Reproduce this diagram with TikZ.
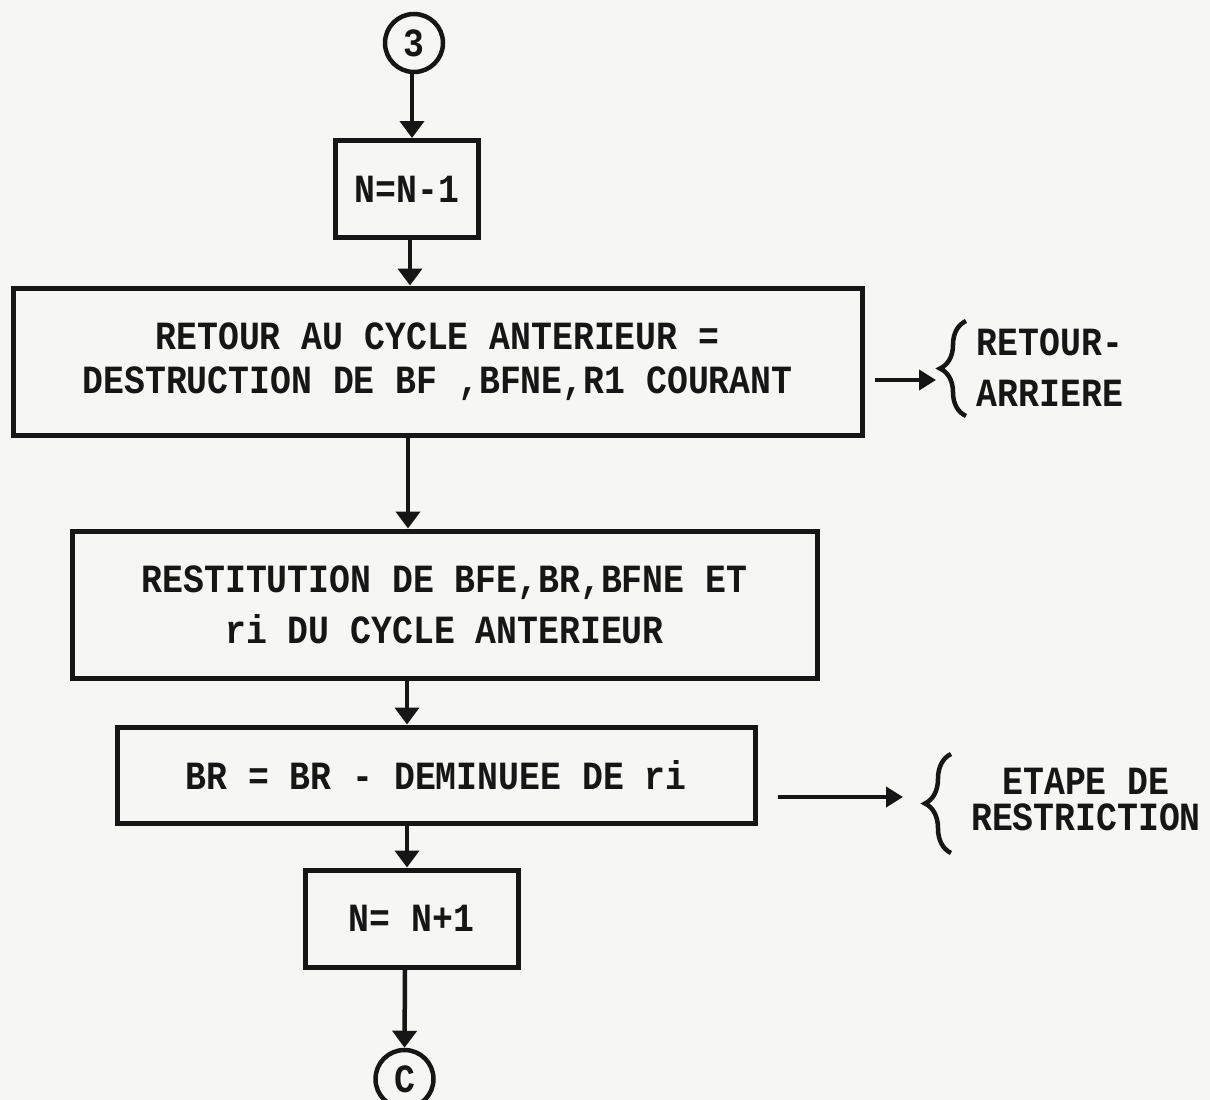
\documentclass[tikz,border=0pt]{standalone}
\usepackage{fontspec}
\setmonofont{Liberation Mono}[FakeStretch=0.87]
\usetikzlibrary{arrows.meta,decorations.pathreplacing}
\definecolor{paper}{RGB}{246,246,244}
\definecolor{ink}{RGB}{22,22,22}
\tikzset{
  every node/.style={font=\ttfamily\bfseries\fontsize{40}{44}\selectfont, text=ink},
  stepbox/.style={draw=ink, line width=5pt, rectangle, inner sep=0pt, align=center},
  conn/.style={draw=ink, circle, line width=4.5pt, minimum size=58pt, inner sep=0pt},
  arr/.style={draw=ink, line width=4.5pt, -{Triangle[length=17pt,width=24pt]}},
  sidearr/.style={draw=ink, line width=4pt, -{Triangle[length=17pt,width=20pt]}},
  bracestyle/.style={draw=ink, line width=4.5pt, decorate, decoration={brace, amplitude=26pt}},
}
\begin{document}
\begin{tikzpicture}[x=1pt,y=-1pt]
\fill[paper] (0,0) rectangle (1210,1100);
\useasboundingbox (0,0) rectangle (1210,1100);

\node[conn] (c3) at (414,43) {3};
\node[stepbox, minimum width=143pt, minimum height=97pt] (b1) at (407,189) {N=N-1};
\node[stepbox, minimum width=849pt, minimum height=147pt] (b2) at (437.5,361.5)
  {RETOUR AU CYCLE ANTERIEUR =\\DESTRUCTION DE BF ,BFNE,R1 COURANT};
\node[stepbox, minimum width=745pt, minimum height=147pt] (b3) at (444.5,604.5)
  {RESTITUTION DE BFE,BR,BFNE ET\\[7pt]ri DU CYCLE ANTERIEUR};
\node[stepbox, minimum width=638pt, minimum height=96pt] (b4) at (436,775)
  {BR = BR - DEMINUEE DE ri};
\node[stepbox, minimum width=213pt, minimum height=97pt] (b5) at (411.5,918.5) {N= N+1};
\node[conn] (cc) at (404.5,1079) {C};

% vertical flow
\draw[arr] (412,0 |- c3.south) -- (412,0 |- b1.north);
\draw[arr] (410,0 |- b1.south) -- (410,0 |- b2.north);
\draw[arr] (408,0 |- b2.south) -- (408,0 |- b3.north);
\draw[arr] (407,0 |- b3.south) -- (407,0 |- b4.north);
\draw[arr] (407,0 |- b4.south) -- (407,0 |- b5.north);
\draw[arr] (405,0 |- b5.south) -- (cc.north);

% side notes
\coordinate (t1) at (936,380);
\draw[sidearr] ([xshift=10pt]b2.east |- t1) -- (t1);
\draw[bracestyle] (966,416) -- (966,321);
\node[align=center] (n1) at (1050,368) {RETOUR-\\[7pt]ARRIERE};

\coordinate (t2) at (903,797);
\draw[sidearr] ([xshift=20pt]b4.east |- t2) -- (t2);
\draw[bracestyle] (951,853) -- (951,754);
\node[align=center] (n2) at (1086,800) {ETAPE DE\\[-8pt]RESTRICTION};
\end{tikzpicture}
\end{document}
